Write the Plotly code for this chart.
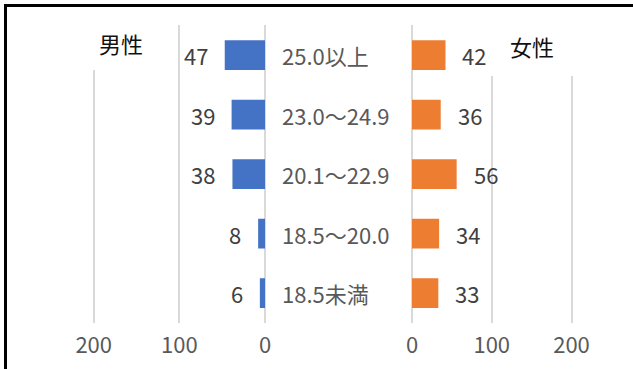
import plotly.graph_objects as go

# BMI bands, top to bottom
categories = ["25.0以上", "23.0～24.9", "20.1～22.9", "18.5～20.0", "18.5未満"]
male = [47, 39, 38, 8, 6]
female = [42, 36, 56, 34, 33]
tick_vals = [0, 100, 200]
tick_text = ["0", "100", "200"]

W, H = 633, 369
FONT = "Noto Sans CJK JP, sans-serif"
GRID = "#d9d9d9"


def px(x):
    return x / W


def py(y):
    return 1 - y / H


fig = go.Figure()
fig.add_trace(go.Bar(y=categories, x=male, orientation="h", xaxis="x", yaxis="y",
                     marker=dict(color="#4472C4", line=dict(width=0)), showlegend=False))
fig.add_trace(go.Bar(y=categories, x=female, orientation="h", xaxis="x2", yaxis="y",
                     marker=dict(color="#ED7D31", line=dict(width=0)), showlegend=False))

axis_common = dict(
    showgrid=True, gridcolor=GRID, gridwidth=1.5,
    zeroline=True, zerolinecolor=GRID, zerolinewidth=1.5,
    tickmode="array", tickvals=tick_vals, ticktext=tick_text,
    ticks="outside", ticklen=3, tickcolor="rgba(0,0,0,0)",
    tickfont=dict(family=FONT, size=22, color="#595959"),
    showline=False, fixedrange=True,
)

left_px, right_px = 265.0, 412.0
lscale, rscale = 0.8565, 0.7975
xmax = 240

fig.update_layout(
    width=W, height=H,
    margin=dict(l=0, r=0, t=0, b=0, autoexpand=False),
    paper_bgcolor="white", plot_bgcolor="white",
    bargap=0.5,
    xaxis=dict(axis_common, domain=[px(left_px - xmax * lscale), px(left_px)],
               range=[xmax, 0], anchor="y"),
    xaxis2=dict(axis_common, domain=[px(right_px), px(right_px + xmax * rscale)],
                range=[0, xmax], anchor="y"),
    yaxis=dict(domain=[py(322.75), py(25.25)], type="category",
               categoryorder="array", categoryarray=categories,
               autorange="reversed", showticklabels=False, showgrid=False,
               zeroline=False, showline=False, fixedrange=True),
)

annotations = []
# value labels beside each bar
for c, v in zip(categories, male):
    annotations.append(dict(x=v, y=c, xref="x", yref="y", text=str(v), showarrow=False,
                            xanchor="right", yanchor="middle", xshift=-15,
                            font=dict(family=FONT, size=22, color="#404040")))
for c, v in zip(categories, female):
    annotations.append(dict(x=v, y=c, xref="x2", yref="y", text=str(v), showarrow=False,
                            xanchor="left", yanchor="middle", xshift=15,
                            font=dict(family=FONT, size=22, color="#404040")))
# band labels between the two panels
for c in categories:
    annotations.append(dict(x=px(280), y=c, xref="paper", yref="y", text=c, showarrow=False,
                            xanchor="left", yanchor="middle",
                            font=dict(family=FONT, size=22, color="#595959")))
# panel titles
annotations.append(dict(x=px(121), y=py(42.5), xref="paper", yref="paper", text="男性",
                        showarrow=False, xanchor="center", yanchor="middle",
                        font=dict(family=FONT, size=22, color="#111111")))
annotations.append(dict(x=px(532), y=py(46), xref="paper", yref="paper", text="女性",
                        showarrow=False, xanchor="center", yanchor="middle",
                        font=dict(family=FONT, size=22, color="#111111")))

frame = dict(color="#000000", width=3)
shapes = [
    # white boxes behind the panel titles
    dict(type="rect", xref="paper", yref="paper", x0=px(79), x1=px(163), y0=py(70), y1=py(20),
         fillcolor="white", line=dict(width=0), layer="above"),
    dict(type="rect", xref="paper", yref="paper", x0=px(490.5), x1=px(574), y0=py(76), y1=py(24),
         fillcolor="white", line=dict(width=0), layer="above"),
    # outer frame (top and left edges)
    dict(type="line", xref="paper", yref="paper", x0=px(4), x1=1, y0=py(5.5), y1=py(5.5),
         line=frame, layer="above"),
    dict(type="line", xref="paper", yref="paper", x0=px(5.5), x1=px(5.5), y0=0, y1=py(4),
         line=frame, layer="above"),
]

fig.update_layout(annotations=annotations, shapes=shapes)
fig.write_html("out.html")
